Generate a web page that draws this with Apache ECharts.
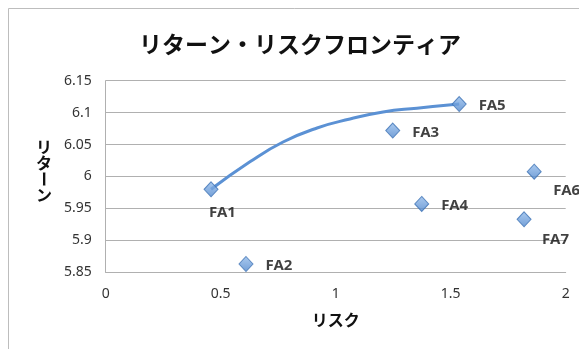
<!DOCTYPE html>
<html>
<head>
<meta charset="utf-8">
<script src="https://cdn.jsdelivr.net/npm/echarts@6/dist/echarts.min.js"></script>
<style>
  html, body { margin: 0; padding: 0; background: #fff; }
  #chart { width: 579px; height: 349px; }
</style>
</head>
<body>
<div id="chart"></div>
<script>
// Portfolio names, risk (x) and return (y)
const fundNames = ['FA1', 'FA2', 'FA3', 'FA4', 'FA5', 'FA6', 'FA7'];
const fundRisk = [0.458, 0.61, 1.248, 1.374, 1.537, 1.863, 1.819];
const fundReturn = [5.980, 5.863, 6.072, 5.957, 6.1135, 6.0075, 5.933];

// Efficient frontier curve (risk, return)
const frontierRisk = [0.458, 0.627, 0.771, 0.919, 1.062, 1.206, 1.353, 1.537];
const frontierReturn = [5.980, 6.023, 6.054, 6.076, 6.090, 6.101, 6.107, 6.1135];

// Axis tick labels
const xTicks = ['0', '0.5', '1', '1.5', '2'];
const yTicks = ['5.85', '5.9', '5.95', '6', '6.05', '6.1', '6.15'];

const labelPlacement = {
  FA1: { position: [5.5, 29.5], verticalAlign: 'middle' },
  FA6: { position: [26.5, 25.5], verticalAlign: 'middle' },
  FA7: { position: [25.5, 26.5], verticalAlign: 'middle' }
};

const chart = echarts.init(document.getElementById('chart'), null, { renderer: 'canvas' });

const jpFont = '"Noto Sans CJK JP", "Noto Sans", sans-serif';
const numFont = '"Noto Sans", "Open Sans", sans-serif';

const markerFill = new echarts.graphic.LinearGradient(0, 0, 0, 1, [
  { offset: 0, color: '#95bdec' },
  { offset: 1, color: '#4f86cc' }
]);

const scatterData = fundNames.map((n, i) => {
  const item = { name: n, value: [fundRisk[i], fundReturn[i]] };
  if (labelPlacement[n]) {
    item.label = Object.assign({ align: 'left' }, labelPlacement[n]);
  }
  return item;
});

const option = {
  animation: false,
  backgroundColor: '#fff',
  title: {
    text: 'リターン・リスクフロンティア',
    left: 134,
    top: 28,
    textStyle: { fontFamily: jpFont, fontSize: 23, fontWeight: 'bold', color: '#111' }
  },
  grid: { left: 105.7, right: 13.3, top: 80.7, bottom: 76.7 },
  xAxis: {
    type: 'value',
    min: 0, max: 2, interval: 0.5,
    name: 'リスク',
    nameLocation: 'middle',
    nameGap: 40,
    nameTextStyle: { fontFamily: jpFont, fontSize: 16, fontWeight: 'bold', color: '#111' },
    axisLine: { show: true, lineStyle: { color: '#b0b0b0', width: 1 } },
    axisTick: { show: false },
    splitLine: { show: false },
    axisLabel: {
      margin: 15,
      fontFamily: numFont, fontSize: 14, color: '#333',
      formatter: v => xTicks[Math.round(v / 0.5)]
    }
  },
  yAxis: {
    type: 'value',
    min: 5.85, max: 6.15, interval: 0.05,
    axisLine: { show: true, lineStyle: { color: '#b0b0b0', width: 1 } },
    axisTick: { show: false },
    splitLine: { show: true, lineStyle: { color: '#b0b0b0', width: 1 } },
    axisLabel: {
      margin: 14,
      fontFamily: numFont, fontSize: 14, color: '#333',
      formatter: v => yTicks[Math.round((v - 5.85) / 0.05)]
    }
  },
  graphic: [
    {
      type: 'rect',
      shape: { x: 8.5, y: 8.5, width: 700, height: 500 },
      style: { fill: 'none', stroke: '#bdbdbd', lineWidth: 1 },
      z: -1
    },
    {
      type: 'group',
      left: 36, top: 139,
      children: [
        { type: 'text', x: 0, y: 0, style: { text: 'リ', font: 'bold 16px ' + jpFont, fill: '#111' } },
        { type: 'text', x: 0, y: 16, style: { text: 'タ', font: 'bold 16px ' + jpFont, fill: '#111' } },
        { type: 'text', x: 16, y: 32, rotation: -Math.PI / 2, style: { text: 'ー', font: 'bold 16px ' + jpFont, fill: '#111' } },
        { type: 'text', x: 0, y: 48, style: { text: 'ン', font: 'bold 16px ' + jpFont, fill: '#111' } }
      ]
    }
  ],
  series: [
    {
      type: 'line',
      data: frontierRisk.map((r, i) => [r, frontierReturn[i]]),
      smooth: 0.5,
      showSymbol: false,
      symbol: 'none',
      lineStyle: { color: '#5b91d4', width: 3 },
      z: 2
    },
    {
      type: 'scatter',
      data: scatterData,
      symbol: 'diamond',
      symbolSize: [14, 15],
      itemStyle: { color: markerFill, borderColor: '#3f73b5', borderWidth: 1 },
      label: {
        show: true,
        formatter: p => p.name,
        position: 'right',
        distance: 12,
        offset: [0, 2],
        fontFamily: numFont,
        fontSize: 15,
        fontWeight: 'bold',
        color: '#111'
      },
      z: 3
    }
  ]
};

chart.setOption(option);
</script>
</body>
</html>
